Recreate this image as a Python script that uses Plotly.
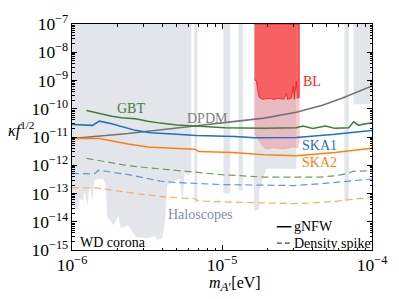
import plotly.graph_objects as go

# ---------------- data ----------------
# Haloscope exclusion: lower boundary (top of plot = 1e-7 means no constraint)
halo_m = [1.00e-6, 1.094e-6, 1.127e-6, 1.178e-6, 1.214e-6, 1.270e-6, 1.308e-6, 1.367e-6,
          1.409e-6, 1.473e-6, 1.610e-6, 1.685e-6, 1.711e-6, 1.897e-6, 2.045e-6, 2.109e-6,
          2.37e-6, 2.56e-6, 2.67e-6, 3.20e-6, 3.55e-6, 3.71e-6, 4.00e-6, 4.18e-6, 4.31e-6,
          4.64e-6, 5.22e-6, 5.47e-6, 5.64e-6, 5.98e-6, 6.25e-6, 6.25e-6, 6.54e-6, 6.54e-6,
          6.84e-6, 6.84e-6, 1.023e-5, 1.023e-5, 1.135e-5, 1.135e-5, 1.288e-5, 1.288e-5,
          1.377e-5, 1.377e-5, 1.636e-5, 1.636e-5, 1.77e-5, 1.77e-5, 1.97e-5, 3.13e-5, 3.13e-5,
          6.55e-5, 6.55e-5, 7.00e-5, 7.00e-5, 7.54e-5, 7.54e-5, 9.86e-5, 9.86e-5, 1.0e-4]
halo_k = [3.79e-14, 2.53e-14, 6.68e-14, 5.68e-14, 1.27e-13, 3.79e-14, 1.91e-13, 5.68e-14,
          2.86e-13, 3.36e-13, 3.36e-13, 1.91e-13, 1.56e-14, 7.53e-15, 1.69e-14, 5.91e-15,
          7.53e-15, 4.29e-15, 2.86e-15, 2.63e-15, 3.10e-15, 2.24e-15, 2.63e-15, 1.13e-14, 1.91e-13,
          2.43e-13, 3.36e-13, 5.68e-14, 5.46e-13, 4.28e-13, 6.41e-13, 1e-7, 1e-7, 4.83e-14,
          4.83e-14, 1e-7, 1e-7, 1.0e-13, 1.0e-13, 1e-7, 1e-7, 1.27e-13,
          1.27e-13, 1e-7, 1e-7, 2.53e-14, 2.53e-14, 1.27e-13, 7.53e-13, 7.53e-13, 1e-7,
          1e-7, 5.68e-14, 5.68e-14, 1e-7, 1e-7, 1.44e-10, 1.44e-10, 1e-7, 1e-7]

# BL (gNFW) excluded region lower edge
bl_m = [1.647e-5, 1.70e-5, 1.72e-5, 1.77e-5, 1.86e-5, 2.06e-5, 2.22e-5, 2.39e-5, 2.58e-5,
        2.69e-5, 2.73e-5, 2.90e-5, 2.99e-5, 3.03e-5, 3.13e-5, 3.18e-5, 3.27e-5]
bl_k = [1.08e-9, 9.22e-10, 5.24e-10, 2.53e-10, 2.15e-10, 2.34e-10, 2.15e-10, 2.34e-10, 2.15e-10,
        3.50e-10, 2.15e-10, 2.34e-10, 6.15e-10, 2.15e-10, 9.22e-10, 2.34e-10, 2.53e-10]
# BL (density spike) excluded region lower edge
bls_m = [1.647e-5, 1.72e-5, 1.86e-5, 1.97e-5, 2.22e-5, 2.58e-5, 2.99e-5, 3.18e-5, 3.27e-5]
bls_k = [1.38e-11, 9.22e-12, 4.83e-12, 3.79e-12, 4.11e-12, 3.79e-12, 4.46e-12, 4.11e-12, 7.24e-12]

# gNFW projections
gbt_m = [1.25e-6, 1.52e-6, 1.84e-6, 2.14e-6, 2.64e-6, 3.20e-6, 3.88e-6, 5.0e-6, 6.44e-6, 8.69e-6,
         1.054e-5, 1.42e-5, 1.91e-5, 3.13e-5, 3.47e-5, 4.03e-5, 4.89e-5, 5.67e-5, 7.0e-5, 7.54e-5,
         8.12e-5, 1.0e-4]
gbt_k = [8.65e-11, 6.79e-11, 5.46e-11, 4.76e-11, 4.39e-11, 3.64e-11, 3.10e-11, 2.68e-11, 2.43e-11,
         2.24e-11, 2.12e-11, 2.07e-11, 2.02e-11, 2.12e-11, 2.43e-11, 2.02e-11, 2.43e-11, 2.02e-11,
         2.12e-11, 3.44e-11, 2.64e-11, 3.18e-11]
ska1_m = [1.0e-6, 1.37e-6, 1.52e-6, 1.84e-6, 2.64e-6, 3.34e-6, 5.0e-6, 6.73e-6, 1.22e-5, 1.647e-5,
          3.13e-5, 4.47e-5, 5.67e-5, 7.31e-5, 1.0e-4]
ska1_k = [2.79e-11, 2.58e-11, 3.64e-11, 2.93e-11, 1.72e-11, 1.42e-11, 1.24e-11, 1.13e-11, 1.04e-11,
          9.45e-12, 9.6e-12, 1.08e-11, 1.24e-11, 1.44e-11, 1.69e-11]
ska2_m = [1.0e-6, 1.52e-6, 2.37e-6, 3.20e-6, 4.31e-6, 6.56e-6, 7.05e-6, 1.17e-5, 1.91e-5, 3.13e-5,
          5.67e-5, 1.0e-4]
ska2_k = [8.85e-12, 8.85e-12, 5.68e-12, 4.46e-12, 4.11e-12, 3.70e-12, 3.05e-12, 2.81e-12, 2.33e-12,
          2.15e-12, 2.81e-12, 4.02e-12]
dpdm_m = [1.0e-6, 2.37e-6, 5.0e-6, 9.93e-6, 1.91e-5, 3.13e-5, 4.67e-5, 6.3e-5, 7.87e-5, 1.0e-4]
dpdm_k = [8.85e-12, 1.33e-11, 2.07e-11, 3.10e-11, 4.65e-11, 7.53e-11, 1.33e-10, 2.34e-10, 3.79e-10,
          6.41e-10]

# Density-spike projections
gbt_s_m = [1.25e-6, 1.52e-6, 2.37e-6, 3.20e-6, 5.0e-6, 9.93e-6, 1.91e-5, 2.69e-5, 4.47e-5, 5.85e-5,
           7.0e-5, 7.54e-5, 1.0e-4]
gbt_s_k = [1.76e-12, 1.44e-12, 9.6e-13, 8.17e-13, 6.68e-13, 4.65e-13, 3.80e-13, 3.73e-13, 3.80e-13,
           4.28e-13, 5.24e-13, 6.15e-13, 6.41e-13]
ska1_s_m = [1.0e-6, 1.41e-6, 1.50e-6, 2.37e-6, 3.88e-6, 5.0e-6, 9.93e-6, 1.91e-5, 2.99e-5, 4.47e-5,
            7.31e-5, 1.0e-4]
ska1_s_k = [5.15e-13, 4.91e-13, 6.68e-13, 4.65e-13, 2.75e-13, 2.43e-13, 2.07e-13, 1.91e-13, 1.91e-13,
            2.19e-13, 2.86e-13, 3.28e-13]
ska2_s_m = [1.0e-6, 1.45e-6, 2.75e-6, 4.31e-6, 6.56e-6, 7.05e-6, 1.17e-5, 1.91e-5, 3.13e-5, 5.67e-5,
            1.0e-4]
ska2_s_k = [1.58e-13, 1.58e-13, 9.76e-14, 7.41e-14, 6.51e-14, 5.37e-14, 4.95e-14, 4.57e-14, 4.35e-14,
            5.24e-14, 7.41e-14]

Y_TOP = 1e-7

# colours
C_HALO = "#e2e5ea"
C_GBT = "#3f7f37"
C_SKA1 = "#1f70c1"
C_SKA2 = "#ff800e"
C_DPDM = "#737373"
C_GBT_S = "#6d9e62"
C_SKA1_S = "#5b9ad6"
C_SKA2_S = "#ffab66"

SERIF = "Liberation Serif, DejaVu Serif, serif"

fig = go.Figure()

def closed_region(ms, ks):
    # region between the lower edge and the top of the plot
    xs = list(ms) + [ms[-1], ms[0]]
    ys = list(ks) + [Y_TOP, Y_TOP]
    return xs, ys

hx, hy = closed_region(halo_m, halo_k)
fig.add_trace(go.Scatter(x=hx, y=hy, mode="lines", fill="toself", fillcolor=C_HALO,
                         line=dict(width=0, color=C_HALO), hoverinfo="skip", showlegend=False))

sx, sy = closed_region(bls_m, bls_k)
fig.add_trace(go.Scatter(x=sx, y=sy, mode="lines", fill="toself", fillcolor="rgba(255,60,70,0.25)",
                         line=dict(width=0.6, color="rgba(255,90,100,0.4)"), showlegend=False))
bx, by = closed_region(bl_m, bl_k)
fig.add_trace(go.Scatter(x=bx, y=by, mode="lines", fill="toself", fillcolor="rgba(255,40,40,0.62)",
                         line=dict(width=0.8, color="rgba(255,0,0,0.9)"), showlegend=False))

def add_line(ms, ks, color, dash="solid", width=1.5):
    fig.add_trace(go.Scatter(x=ms, y=ks, mode="lines", line=dict(color=color, width=width, dash=dash),
                             showlegend=False))

add_line(dpdm_m, dpdm_k, C_DPDM, width=1.6)
add_line(gbt_s_m, gbt_s_k, C_GBT_S, dash="7px,4px", width=1.2)
add_line(ska1_s_m, ska1_s_k, C_SKA1_S, dash="7px,4px", width=1.2)
add_line(ska2_s_m, ska2_s_k, C_SKA2_S, dash="7px,4px", width=1.2)
add_line(gbt_m, gbt_k, C_GBT)
add_line(ska1_m, ska1_k, C_SKA1)
add_line(ska2_m, ska2_k, C_SKA2)

axis_common = dict(type="log", showgrid=False, zeroline=False, showline=True, linecolor="black",
                   linewidth=1, mirror="allticks", ticks="inside", ticklen=5, tickcolor="black",
                   exponentformat="power", dtick=1,
                   tickfont=dict(family=SERIF, size=14, color="black"),
                   minor=dict(ticks="inside", ticklen=2.5, tickcolor="black", showgrid=False))

fig.update_xaxes(range=[-6, -4], **axis_common)
fig.update_yaxes(range=[-15, -7], **axis_common)

def ann(text, x, y, color, size=13, xanchor="center"):
    fig.add_annotation(text=text, x=x, y=y, xref="paper", yref="paper", showarrow=False,
                       xanchor=xanchor, yanchor="middle", font=dict(family=SERIF, size=size, color=color))

ann("GBT", 0.197, 0.627, C_GBT, size=14)
ann("DPDM", 0.453, 0.583, "#808080", size=14)
ann("BL", 0.799, 0.746, "#ff1a1a", size=14)
ann("SKA1", 0.825, 0.461, C_SKA1, size=14)
ann("SKA2", 0.825, 0.386, C_SKA2, size=14)
ann("Haloscopes", 0.427, 0.158, "#7f8ea3", size=14)
ann("WD corona", 0.019, 0.035, "black", size=14, xanchor="left")
ann("gNFW", 0.7346, 0.103, "black", size=14, xanchor="left")
ann("Density spike", 0.7346, 0.03, "black", size=14, xanchor="left")
ann("<i>κf</i><sup>1/2</sup>", -0.17, 0.535, "black", size=16)
ann("<i>m</i><sub><span style='font-size:13px'><i>A</i>′</span></sub>[eV]", 0.544, -0.152,
    "black", size=16)

# legend samples
fig.add_shape(type="line", xref="paper", yref="paper", x0=0.6828, x1=0.7314, y0=0.103, y1=0.103,
              line=dict(color="black", width=1.5))
fig.add_shape(type="line", xref="paper", yref="paper", x0=0.6828, x1=0.7314, y0=0.03, y1=0.03,
              line=dict(color="#444", width=1.2, dash="5px,3px"))

fig.update_layout(width=399, height=299, margin=dict(l=72, r=18, t=22, b=49),
                  paper_bgcolor="white", plot_bgcolor="white", showlegend=False)

fig.write_html("out.html", config={"displayModeBar": False},
               post_script="document.body.style.margin='0';")
